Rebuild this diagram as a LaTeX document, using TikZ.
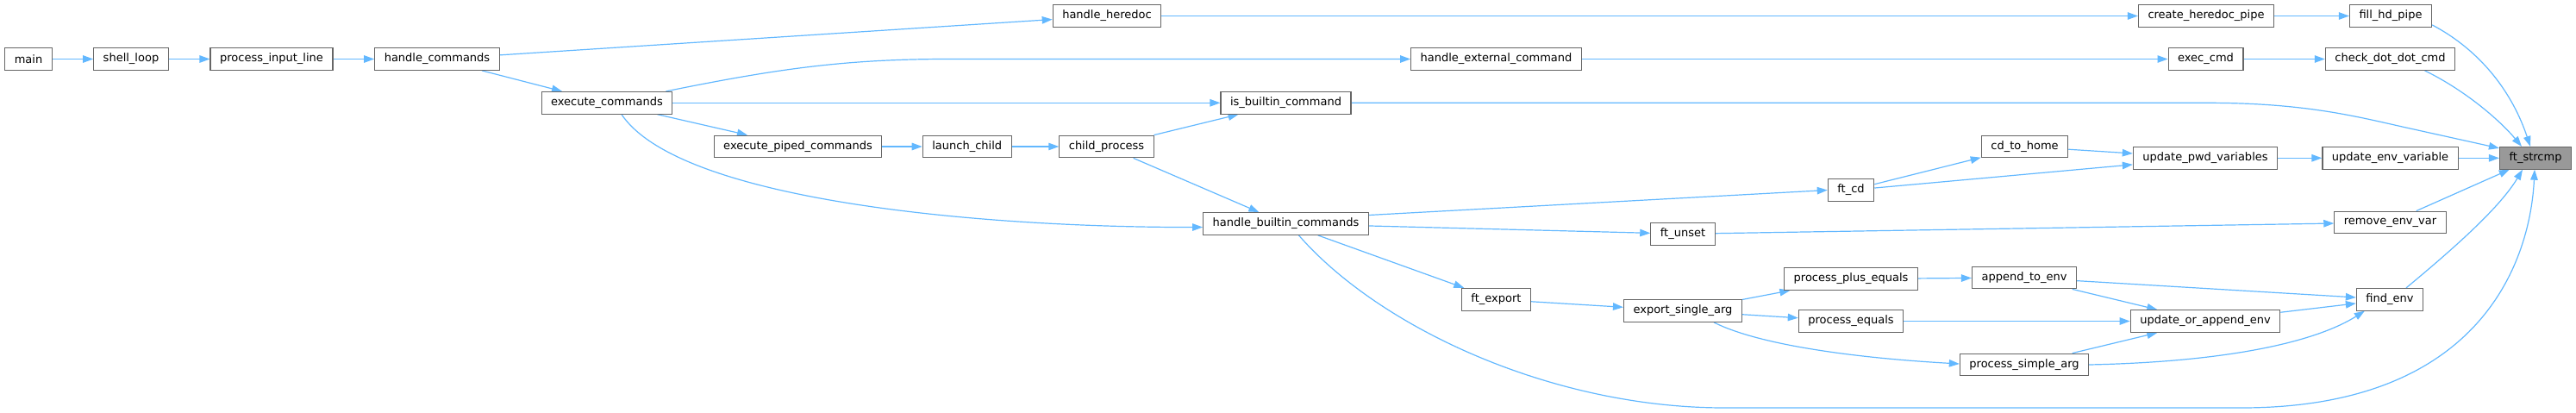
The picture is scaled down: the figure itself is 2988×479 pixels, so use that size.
\documentclass[tikz,border=0pt]{standalone}
\usepackage{fontspec}
\setmainfont{DejaVu Sans}
\usepackage{xcolor}
\usetikzlibrary{arrows.meta,backgrounds}

\definecolor{edgeblue}{HTML}{63B8FF}
\definecolor{boxgray}{HTML}{666666}
\definecolor{hitgray}{HTML}{999999}

\begin{document}
\begin{tikzpicture}[x=1pt, y=-1pt,
    fn/.style={draw=boxgray, line width=1.2pt, fill=white, minimum height=25.6pt,
               inner xsep=11pt, inner ysep=0pt, font=\fontsize{13pt}{15pt}\selectfont},
    hit/.style={fn, fill=hitgray},
    arr/.style={-{Triangle[length=12pt, width=8.5pt]}, edgeblue, line width=1.2pt},
  ]
    \useasboundingbox (0,0) rectangle (2988,479);

    % callers, left to right
    \node[fn] (main)       at (33,68.5)    {main};
    \node[fn] (loop)       at (152,68.5)   {shell\_loop};
    \node[fn] (inputline)  at (315,68.5)   {process\_input\_line};
    \node[fn] (handlecmds) at (507,68.5)   {handle\_commands};
    \node[fn] (execcmds)   at (704,119.3)  {execute\_commands};
    \node[fn] (piped)      at (925.5,170)  {execute\_piped\_commands};
    \node[fn] (launch)     at (1121.7,170) {launch\_child};
    \node[fn] (child)      at (1283.5,170) {child\_process};
    \node[fn] (heredoc)    at (1284,18.5)  {handle\_heredoc};
    \node[fn] (isbuiltin)  at (1491.5,119.3) {is\_builtin\_command};
    \node[fn] (builtins)   at (1491.5,259.5) {handle\_builtin\_commands};
    \node[fn] (extcmd)     at (1735.5,68.5)  {handle\_external\_command};
    \node[fn] (export)     at (1735.5,347.3) {ft\_export};
    \node[fn] (unset)      at (1952,271.3)   {ft\_unset};
    \node[fn] (singlearg)  at (1952,360.5)   {export\_single\_arg};
    \node[fn] (ftcd)       at (2147,220.5)   {ft\_cd};
    \node[fn] (plusequals) at (2147,323.5)   {process\_plus\_equals};
    \node[fn] (equals)     at (2147,372.5)   {process\_equals};
    \node[fn] (cdhome)     at (2348.5,170)   {cd\_to\_home};
    \node[fn] (appendenv)  at (2348,322)     {append\_to\_env};
    \node[fn] (simplearg)  at (2348,423)     {process\_simple\_arg};
    \node[fn] (hdpipe)     at (2559,18.5)    {create\_heredoc\_pipe};
    \node[fn] (execcmd)    at (2558.5,68.5)  {exec\_cmd};
    \node[fn] (pwdvars)    at (2558,183.3)   {update\_pwd\_variables};
    \node[fn] (updateenv)  at (2558,372.5)   {update\_or\_append\_env};
    \node[fn] (fillhd)     at (2773,18.5)    {fill\_hd\_pipe};
    \node[fn] (dotdot)     at (2772.5,68.5)  {check\_dot\_dot\_cmd};
    \node[fn] (envvar)     at (2772.5,183.3) {update\_env\_variable};
    \node[fn] (rmenv)      at (2772.5,258)   {remove\_env\_var};
    \node[fn] (findenv)    at (2772,347.3)   {find\_env};
    \node[hit] (strcmp)    at (2941,183.3)   {ft\_strcmp};

    \begin{scope}[on background layer]
    % main chain
    \draw[arr] (main) -- (loop);
    \draw[arr] (loop) -- (inputline);
    \draw[arr] (inputline) -- (handlecmds);
    \draw[arr] (handlecmds) -- (heredoc);
    \draw[arr] (handlecmds) -- (execcmds);

    % execute_commands
    \draw[arr] ([xshift=-8pt]execcmds.north east)
      .. controls (900,80) and (980,68.5) .. (1100,68.5) -- (extcmd.west);
    \draw[arr] (execcmds) -- (isbuiltin);
    \draw[arr] (execcmds) -- (piped);
    \draw[arr] ([xshift=17pt]execcmds.south)
      .. controls (790,235) and (1150,264) .. ([yshift=-4pt]builtins.west);
    \draw[arr] (piped) -- (launch);
    \draw[arr] (launch) -- (child);
    \draw[arr] (child) -- (isbuiltin);
    \draw[arr] (child) -- (builtins);

    % top rows
    \draw[arr] (heredoc) -- (hdpipe);
    \draw[arr] (hdpipe) -- (fillhd);
    \draw[arr] (extcmd) -- (execcmd);
    \draw[arr] (execcmd) -- (dotdot);

    % builtins
    \draw[arr] ([yshift=10pt]builtins.east) -- (ftcd.west);
    \draw[arr] (builtins) -- (unset);
    \draw[arr] (builtins) -- (export);
    \draw[arr] (ftcd) -- (cdhome);
    \draw[arr] (ftcd) -- (pwdvars);
    \draw[arr] (cdhome) -- (pwdvars);
    \draw[arr] (pwdvars) -- (envvar);
    \draw[arr] (unset) -- (rmenv);

    % export
    \draw[arr] (export) -- (singlearg);
    \draw[arr] (singlearg) -- (plusequals);
    \draw[arr] (singlearg) -- (equals);
    \draw[arr] ([xshift=36pt]singlearg.south)
      .. controls (2040,400) and (2150,415) .. ([yshift=1pt]simplearg.west);
    \draw[arr] (plusequals) -- (appendenv);
    \draw[arr] (equals) -- (updateenv);
    \draw[arr] (simplearg) -- (updateenv);
    \draw[arr] (simplearg.east)
      .. controls (2570,420) and (2680,400) .. ([xshift=10pt]findenv.south west);
    \draw[arr] (appendenv) -- (updateenv);
    \draw[arr] (appendenv) -- (findenv);
    \draw[arr] (updateenv) -- (findenv);

    % into ft_strcmp
    \draw[arr] ([yshift=3pt]fillhd.south east)
      .. controls (2880,60) and (2915,110) .. ([xshift=-6pt]strcmp.north);
    \draw[arr] ([xshift=40pt]dotdot.south)
      .. controls (2860,105) and (2900,140) .. ([xshift=-16pt]strcmp.north);
    \draw[arr] (isbuiltin.east) -- (2560,119.3)
      .. controls (2680,119.3) and (2740,137) .. (2800,150)
      -- ([yshift=-2pt]strcmp.north west);
    \draw[arr] (envvar) -- (strcmp);
    \draw[arr] (rmenv) -- (strcmp);
    \draw[arr] ([xshift=19pt]findenv.north)
      .. controls (2850,285) and (2900,240) .. ([xshift=-15pt]strcmp.south);
    \draw[arr] ([xshift=15pt]builtins.south)
      .. controls (1600,380) and (1800,473) .. (2000,473) -- (2600,473)
      .. controls (2880,473) and (2935,300) .. ([xshift=-1pt]strcmp.south);
    \end{scope}
  \end{tikzpicture}
\end{document}
